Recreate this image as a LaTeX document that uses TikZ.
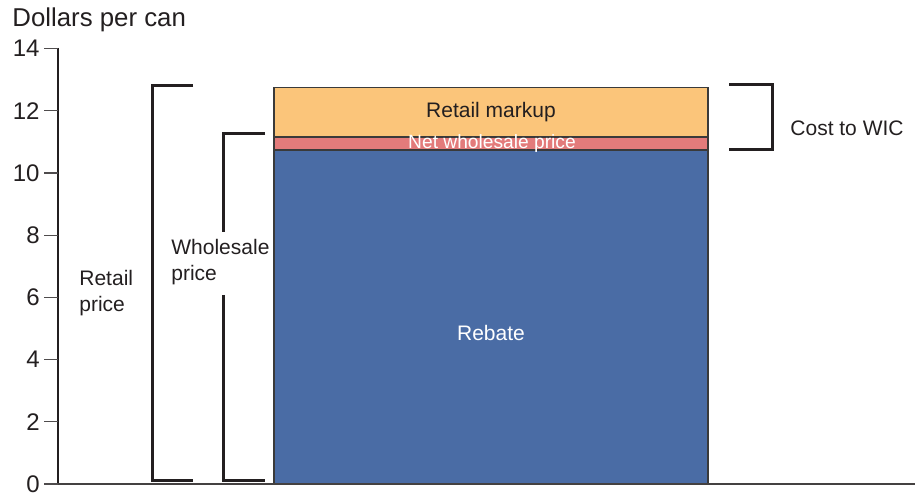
\documentclass[tikz,border=0pt]{standalone}
\usepackage{fontspec}
\setmainfont{Liberation Sans}
\definecolor{markup}{HTML}{FBC57A}
\definecolor{netw}{HTML}{E37B7B}
\definecolor{rebate}{HTML}{4A6CA5}
\definecolor{ink}{HTML}{231F20}
\definecolor{outl}{HTML}{3A3A3A}
\begin{document}
\begin{tikzpicture}[x=0.5pt,y=-0.5pt,
  every node/.style={font=\fontsize{10.5}{13}\selectfont, text=ink, inner sep=0pt},
  axisline/.style={draw=ink, line width=0.8pt},
  tickline/.style={draw=ink!80, line width=0.6pt},
  bracketline/.style={draw=ink, line width=1.5pt, line join=miter},
  seg/.style={draw=outl, line width=0.6pt},
  ticklabel/.style={anchor=east, font=\fontsize{12}{14}\selectfont}]
\useasboundingbox (0,0) rectangle (919,496);

% title
\node[anchor=west, font=\fontsize{12.9}{15}\selectfont] (title) at (12,20) {Dollars per can};

% bar segments
\fill[rebate] (274,150) rectangle (708,484);
\draw[seg, fill=markup] (274,87.7) rectangle (708,137);
\draw[seg, fill=netw] (274,137) rectangle (708,150);
\draw[seg] (274,150) -- (274,484) (708,150) -- (708,484);
\node (markup) at (491,112) {Retail markup};
\node[text=white, font=\fontsize{9.6}{11}\selectfont] (net) at (492,144) {Net wholesale price};
\node[text=white] (reb) at (491,333) {Rebate};

% axes
\coordinate (o) at (58,484);
\coordinate (ytop) at (58,48);
\coordinate (xend) at (915,484);
\draw[axisline] (ytop) -- (o);
\draw[draw=ink!85, line width=1.1pt] (o) -- (xend);
\foreach \v in {0,2,...,14}{
  \pgfmathsetmacro{\yy}{484-31.1*\v}
  \coordinate (t\v) at (58,\yy);
  \draw[tickline] (44,\yy) -- (t\v);
  \node[ticklabel] (l\v) at (40,\yy) {\v};
}

% retail price bracket
\coordinate (ra) at (193,86);
\coordinate (rb) at (152,86);
\coordinate (rc) at (152,480);
\coordinate (rd) at (193,480);
\draw[bracketline] (ra) -- (rb) -- (rc) -- (rd);
\node[align=left, anchor=west] (retail) at (79,293) {Retail\\price};

% wholesale price bracket
\coordinate (wa) at (265,134);
\coordinate (wb) at (223,134);
\coordinate (wc) at (223,232);
\coordinate (wd) at (223,295);
\coordinate (we) at (223,480);
\coordinate (wf) at (265,480);
\draw[bracketline] (wa) -- (wb) -- (wc);
\draw[bracketline] (wd) -- (we) -- (wf);
\node[align=left, anchor=west] (whole) at (171,262) {Wholesale\\price};

% cost to WIC bracket
\coordinate (ca) at (729,85);
\coordinate (cb) at (772,85);
\coordinate (cc) at (772,150);
\coordinate (cd) at (729,150);
\draw[bracketline] (ca) -- (cb) -- (cc) -- (cd);
\node[anchor=west] (wic) at (790,128) {Cost to WIC};
\end{tikzpicture}
\end{document}
